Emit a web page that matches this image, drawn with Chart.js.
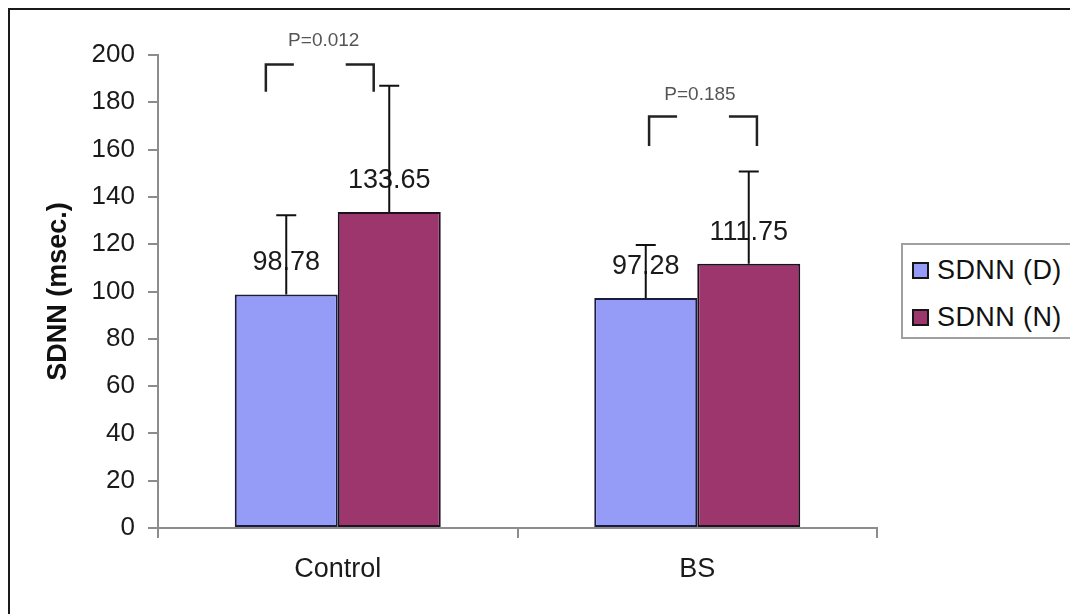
<!DOCTYPE html>
<html>
<head>
<meta charset="utf-8">
<script src="https://cdn.jsdelivr.net/npm/chart.js@4.4.0/dist/chart.umd.min.js"></script>
<style>
	html, body { margin: 0; padding: 0; background: #fff; overflow: hidden; width: 1070px; height: 614px; }
	.frame { position: absolute; left: 8px; top: 8px; width: 1200px; height: 700px; border: 2px solid #1a1a1a; box-sizing: border-box; }
	#myChart { position: absolute; left: 0; top: 0; }
	.legend { position: absolute; left: 901px; top: 243px; width: 220px; height: 96px; border: 2px solid #a0a0a0; box-sizing: border-box; list-style: none; margin: 0; padding: 2px 0 0 9px; font: 27px "Liberation Sans", Arial, sans-serif; color: #111; background: #fff; letter-spacing: 0.4px; }
	.legend__item { display: flex; align-items: center; height: 47px; }
	.legend__box { width: 13px; height: 13px; border: 2px solid #161616; margin-right: 8px; }
</style>
</head>
<body>
<div class="frame"></div>
<canvas id="myChart" width="1070" height="614"></canvas>
<ul class="legend"></ul>
<script>
	// данные
	const groups = ["Control", "BS"];
	const seriesNames = ["SDNN (D)", "SDNN (N)"];
	const meanDay = [98.78, 97.28];
	const meanNight = [133.65, 111.75];
	const sdDay = [33.5, 22.4];
	const sdNight = [53.3, 39.0];
	const yTicks = [0, 20, 40, 60, 80, 100, 120, 140, 160, 180, 200];
	const pValues = ["P=0.012", "P=0.185"];

	const colors = ["#949cf7", "#9c366c"];
	const font = '"Liberation Sans", Arial, sans-serif';

	// скобки над столбцами (позиция по категориям и по оси y)
	const brackets = [
		{ from: -0.2, to: 0.1, top: 196, bottom: 184.5, textY: 206, shift: 4 },
		{ from: 0.866, to: 1.166, top: 174, bottom: 161.5, textY: 183, shift: -3 },
	];

	// подписи значений + усы ошибок
	const barExtras = {
		id: "barExtras",
		afterDatasetsDraw(chart) {
			const { ctx } = chart;
			const y = chart.scales.y;
			const errors = [sdDay, sdNight];

			ctx.save();
			ctx.font = "27px " + font;
			ctx.fillStyle = "#1a1a1a";
			ctx.textAlign = "center";
			ctx.textBaseline = "alphabetic";
			chart.data.datasets.forEach((ds, di) => {
				chart.getDatasetMeta(di).data.forEach((bar, i) => {
					ctx.fillText(ds.data[i].toFixed(2), bar.x, bar.y - 24);
				});
			});

			ctx.strokeStyle = "#111";
			ctx.lineWidth = 2;
			chart.data.datasets.forEach((ds, di) => {
				chart.getDatasetMeta(di).data.forEach((bar, i) => {
					const top = y.getPixelForValue(ds.data[i] + errors[di][i]);
					ctx.beginPath();
					ctx.moveTo(bar.x, bar.y);
					ctx.lineTo(bar.x, top);
					ctx.moveTo(bar.x - 10, top);
					ctx.lineTo(bar.x + 10, top);
					ctx.stroke();
				});
			});
			ctx.restore();
		},
	};

	const pBrackets = {
		id: "pBrackets",
		afterDraw(chart) {
			const { ctx } = chart;
			const { x, y } = chart.scales;
			const arm = 28;

			ctx.save();
			ctx.strokeStyle = "#222";
			ctx.lineWidth = 2.5;
			brackets.forEach((b, i) => {
				const x1 = x.getPixelForValue(b.from);
				const x2 = x.getPixelForValue(b.to);
				const yt = y.getPixelForValue(b.top);
				const yb = y.getPixelForValue(b.bottom);
				ctx.beginPath();
				ctx.moveTo(x1, yb);
				ctx.lineTo(x1, yt);
				ctx.lineTo(x1 + arm, yt);
				ctx.moveTo(x2 - arm, yt);
				ctx.lineTo(x2, yt);
				ctx.lineTo(x2, yb);
				ctx.stroke();

				ctx.font = "19px " + font;
				ctx.fillStyle = "#555";
				ctx.textAlign = "center";
				ctx.textBaseline = "middle";
				ctx.fillText(pValues[i], (x1 + x2) / 2 + b.shift, y.getPixelForValue(b.textY));
			});
			ctx.restore();
		},
	};

	const ctx = document.getElementById("myChart");

	const chart = new Chart(ctx, {
		type: "bar",
		data: {
			labels: groups,
			datasets: [
				{
					label: seriesNames[0],
					data: meanDay,
					backgroundColor: colors[0],
					borderColor: "#1b1b3c",
					borderWidth: 2,
					borderSkipped: false,
				},
				{
					label: seriesNames[1],
					data: meanNight,
					backgroundColor: colors[1],
					borderColor: "#1f1020",
					borderWidth: 2,
					borderSkipped: false,
				},
			],
		},
		options: {
			responsive: false,
			animation: false,
			categoryPercentage: 0.573,
			barPercentage: 1,
			layout: {
				padding: { top: 55, right: 193, bottom: 0, left: 0 },
			},
			plugins: {
				legend: { display: false },
				tooltip: { enabled: false },
			},
			scales: {
				x: {
					afterFit: (scale) => { scale.height = 86; },
					grid: {
						offset: true,
						drawOnChartArea: false,
						drawTicks: true,
						tickLength: 10,
						color: "#8c8c8c",
						lineWidth: 2,
					},
					border: { color: "#8c8c8c", width: 2 },
					ticks: {
						color: "#1a1a1a",
						padding: 15,
						font: { family: font, size: 27 },
					},
				},
				y: {
					min: 0,
					max: 200,
					afterFit: (scale) => { scale.width = 158; },
					afterBuildTicks: (scale) => {
						scale.ticks = yTicks.map((v) => ({ value: v }));
					},
					grid: {
						drawOnChartArea: false,
						drawTicks: true,
						tickLength: 10,
						color: "#8c8c8c",
						lineWidth: 2,
					},
					border: { color: "#8c8c8c", width: 2 },
					ticks: {
						color: "#1a1a1a",
						padding: 13,
						font: { family: font, size: 26 },
					},
					title: {
						display: true,
						text: "SDNN (msec.)",
						color: "#111",
						padding: { top: 42, bottom: 0 },
						font: { family: font, size: 27, weight: "bold" },
					},
				},
			},
		},
		plugins: [barExtras, pBrackets],
	});

	// легенда справа
	const legendList = document.querySelector(".legend");
	chart.data.datasets.forEach((ds) => {
		const item = document.createElement("li");
		item.classList.add("legend__item");
		item.innerHTML = `<span class="legend__box"></span><span class="legend__text"></span>`;
		item.querySelector(".legend__box").style.background = ds.backgroundColor;
		item.querySelector(".legend__text").textContent = ds.label;
		legendList.appendChild(item);
	});
</script>
</body>
</html>
